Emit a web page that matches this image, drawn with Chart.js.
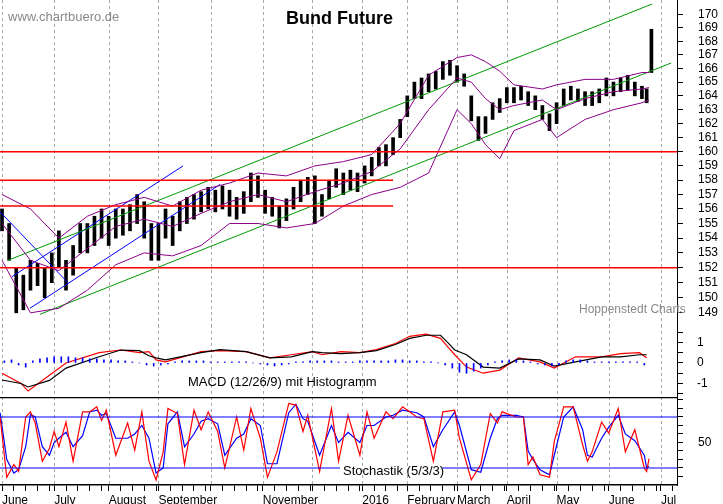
<!DOCTYPE html>
<html><head><meta charset="utf-8">
<script src="https://cdn.jsdelivr.net/npm/chart.js@4.4.1/dist/chart.umd.min.js"></script>
<style>
body{margin:0;background:#fff;width:723px;height:504px;overflow:hidden;position:relative;font-family:"Liberation Sans",Arial,sans-serif}
.c{position:absolute;left:0}
.t{position:absolute;white-space:nowrap}
</style></head><body>
<div class="c" style="top:0;width:723px;height:325px"><canvas id="p" width="723" height="325"></canvas></div>
<div class="c" style="top:325px;width:723px;height:72px"><canvas id="m" width="723" height="72"></canvas></div>
<div class="c" style="top:397px;width:723px;height:107px"><canvas id="s" width="723" height="107"></canvas></div>
<div class="t" style="left:8px;top:9px;font-size:13px;color:#8a8a8a">www.chartbuero.de</div>
<div class="t" style="left:286px;top:8px;font-size:18px;font-weight:bold">Bund Future</div>
<div class="t" style="left:579px;top:302px;font-size:12px;color:#8a8a8a">Hoppenstedt Charts</div>
<div class="t" style="left:188px;top:374px;font-size:13px">MACD (12/26/9) mit Histogramm</div>
<div class="t" style="left:343px;top:463px;font-size:13px">Stochastik (5/3/3)</div>
<script>
// ---- data ----
const monthDays=[0,22,45,66,88,110,131,152,171,192,213,234,256,278];
const monthLabels=['June','July','August','September','','November','','2016','February','March','April','May','June','Jul'];
const priceTicks=[149,150,151,152,153,154,155,156,157,158,159,160,161,162,163,164,165,166,167,168,169,170];
const macdTicks=[-1,0,1];
const stochTicks=[50];
const barDays=[0,3,6,9,12,15,18,21,24,27,30,33,36,39,42,45,48,51,54,57,60,63,66,69,72,75,78,81,84,87,90,93,96,99,102,105,108,111,114,117,120,123,126,129,132,135,138,141,144,147,150,153,156,159,162,165,168,171,174,177,180,183,186,189,192,195,198,201,204,207,210,213,216,219,222,225,228,231,234,237,240,243,246,249,252,255,258,261,264,267,270,272,274];
const barLow=[154.5,152.5,149,149.2,150.5,150.8,150,151,152,150.5,151.5,153,153,153.5,154,153.5,154,154.2,154.5,155,154,152.5,152.5,154,153.5,154.5,155,155.3,155.8,156,155.8,156,155.5,155.3,155.7,156.5,156.8,155.7,155.5,154.7,155.2,156,156.5,157,155,155.5,156.7,157.5,157,157.3,157.2,157.8,158.3,159,159,159.8,161,162.5,163.8,163.8,164.3,164.5,165.2,165.5,165,164.7,162.2,160.8,161.3,162.3,162.8,163.5,163.5,163.7,163.3,163,162.3,161.5,162,163.3,163.7,163.6,163.3,163.3,163.5,164,164,164.3,164.4,164,163.8,163.5,165.7];
const barHigh=[156,155,152,151.5,152.5,152.3,152,153,154.5,152.5,153.5,155,155,155.5,156,155.5,156,156,156.3,157,156.5,155,155,156,155.5,156.5,156.8,157,157.2,157.5,157.3,157.6,157.3,156.8,157.2,158.5,158.3,157.3,156.8,156.2,156.7,157.5,158,158.2,158.3,157,158,158.8,158.5,158.7,158.5,159,159.6,160.3,160.5,161,162.3,164,165,165.3,165.6,165.8,166.5,166.6,166.2,165.6,164,162.5,162.5,163.5,163.8,164.6,164.6,164.7,164.3,164,163.3,162.7,163.5,164.5,164.7,164.5,164.3,164.3,164.5,165.3,165,165.3,165.5,165,164.7,164.5,168.9];
const bbDays=[0,12,24,36,48,60,72,84,96,108,120,132,144,156,168,180,192,198,204,210,216,228,234,246,258,270,273];
const bbUpper=[157,156,154,155.5,156.3,156.8,156.2,157.3,157.8,158.5,158.3,159,159.3,159.8,162,165.5,166.8,167,166.5,165.8,164.8,164.5,164.8,165.2,165.2,165.7,165.7];
const bbMid=[155,152.5,151.8,153.3,154.8,155.3,154.8,155.7,156.5,157,156.5,157.2,157.8,158.6,160.2,163,165.3,165,163.8,163,163.3,163.7,163,163.8,164.3,164.5,164.6];
const bbLower=[152.5,149,149.3,150.5,152.2,153,152.8,153.5,155,155,154.7,155,156.2,157,157.5,158.5,163,162,160.5,159.5,161.5,162.3,161,162.3,163,163.5,163.7];
const greenUpper=[{x:2.5,y:152.5},{x:274.3,y:170.8}];
const greenLower=[{x:16,y:148.9},{x:282.3,y:166.4}];
const blue1=[{x:-0.8,y:155.8},{x:27.8,y:151.0}];
const blue2=[{x:4.2,y:151.4},{x:76.4,y:159.0}];
const blue3=[{x:11.8,y:149.3},{x:92,y:157.7}];
const redFull=[160,152];
const redPart=[158,156.2];
const redPartEnd=165;
const macdDays=[0,8,11,20,27,41,50,58,62,65,69,84,92,103,113,122,131,135,143,151,158,166,172,179,185,188,191,196,203,210,218,227,233,242,253,261,269,272];
const macdBlack=[-0.83,-1.0,-1.17,-0.85,-0.25,0.3,0.63,0.6,0.35,0.25,0.15,0.5,0.65,0.55,0.25,0.3,0.55,0.5,0.45,0.5,0.6,0.9,1.2,1.35,1.35,1.0,0.63,0.4,-0.2,-0.25,0.2,0.15,-0.15,0.05,0.3,0.3,0.4,0.4];
const macdRed=[-0.5,-1.0,-1.37,-0.6,0,0.5,0.63,0.5,0.55,0.15,0.05,0.55,0.6,0.55,0.25,0.4,0.55,0.4,0.55,0.5,0.65,0.95,1.3,1.4,1.2,0.8,0.4,-0.2,-0.5,-0.35,0.25,0.05,-0.25,0.3,0.3,0.45,0.5,0.25];
const histDays=[1,4,7,10,13,16,19,22,25,28,31,34,37,40,43,46,49,52,55,58,61,64,67,70,73,76,79,82,85,88,91,94,97,100,103,106,109,112,115,118,121,124,127,130,133,136,139,142,145,148,151,154,157,160,163,166,169,172,175,178,181,184,187,190,193,196,199,202,205,208,211,214,217,220,223,226,229,232,235,238,241,244,247,250,253,256,259,262,265,268,271];
const histVals=[0.1,0.15,-0.1,-0.2,0.1,0.2,0.25,0.3,0.3,0.3,0.25,0.25,0.2,0.2,0.15,0.15,0.1,0.1,0.05,0.0,-0.1,-0.15,-0.1,-0.05,0.05,0.1,0.1,0.1,0.1,0.05,0.05,0.05,0.05,0.05,0.05,0.0,-0.05,-0.1,-0.15,-0.1,-0.05,0.05,0.05,0.1,0.1,0.1,0.1,0.05,0.05,0.05,0.1,0.1,0.1,0.1,0.1,0.15,0.15,0.1,0.1,0.05,0.05,0.0,-0.1,-0.25,-0.45,-0.5,-0.4,-0.25,-0.1,0.05,0.1,0.15,0.15,0.1,0.05,-0.05,-0.1,-0.15,-0.1,0.1,0.15,0.15,0.1,0.05,0.05,0.05,0.05,0.05,0.05,0.05,-0.1];
const stochDays=[-0.8,2,5,7,10,12,14,17,20,22,24,27,30,34,37,40,42,44,48,53,56,59,62,65,68,70,74,77,81,84,87,91,94,99,102,105,109,112,116,121,124,127,129,134,139,142,146,151,154,157,162,165,169,175,178,182,186,191,193,198,202,206,209,211,217,220,222,224,227,231,233,237,241,245,247,249,253,256,260,263,267,271,272,273];
const stochK=[80,9,24,16,80,86,73,28,43,63,45,74,28,86,86,92,76,88,35,73,41,86,28,6,39,90,84,24,88,65,86,63,20,80,41,90,55,9,39,96,94,63,82,16,90,28,82,35,86,55,86,78,92,80,78,28,86,88,55,6,24,84,73,86,80,80,24,33,12,9,51,92,92,47,28,39,74,61,90,39,65,20,16,31];
const stochD=[85,30,14,18,45,83,80,45,35,50,55,62,45,58,86,88,82,84,55,55,60,70,55,14,20,72,86,45,60,75,78,72,35,55,60,78,70,25,25,85,95,78,75,35,70,50,62,50,70,70,80,82,88,85,80,45,65,86,70,18,15,55,78,82,82,80,40,30,18,12,35,80,92,65,35,33,55,68,82,60,52,35,20,22];
const stochLevels=[80,20];
const stochGap=[142.6,185.7];

// ---- helpers ----
const XMIN=-0.85, XMAX=284.8;
const vgrid={id:'vgrid',beforeDatasetsDraw(c){const g=c.ctx,a=c.chartArea,x=c.scales.x;g.save();g.strokeStyle='#a8a8a8';g.lineWidth=1;g.setLineDash([3,3]);
  monthDays.forEach(d=>{const px=Math.round(x.getPixelForValue(d))+0.5;g.beginPath();g.moveTo(px,a.top);g.lineTo(px,a.bottom);g.stroke();});g.restore();}};
function xHidden(){return {type:'linear',min:XMIN,max:XMAX,offset:false,grid:{display:false},border:{display:false},ticks:{display:false},
  afterFit:s=>{s.height=0;}};}
function yAxis(ticks,min,max,type,extra,pad){return Object.assign({type:type||'linear',position:'right',min:min,max:max,
  grid:{display:true,drawOnChartArea:false,tickLength:6,tickColor:'#000'},border:{color:'#000',width:1},
  ticks:{color:'#000',font:{family:'Liberation Sans',size:12},padding:pad||12,autoSkip:false,callback:v=>ticks.includes(v)?String(v):''},
  afterFit:s=>{s.width=46;s.paddingTop=0;s.paddingBottom=0;}},extra||{});}
const line=(data,color,w)=>({type:'line',data:data,borderColor:color,borderWidth:w||1,pointRadius:0,fill:false,tension:0});
const base={responsive:false,animation:false,events:[],layout:{padding:0,autoPadding:false},plugins:{legend:{display:false},tooltip:{enabled:false}}};

// ---- price ----
const ds=[];
redFull.forEach(v=>ds.push(line([{x:XMIN,y:v},{x:XMAX,y:v}],'#ff0000',1.5)));
redPart.forEach(v=>ds.push(line([{x:XMIN,y:v},{x:redPartEnd,y:v}],'#ff0000',1.5)));
ds.push(line(bbDays.map((d,i)=>({x:d,y:bbUpper[i]})),'#8b008b'));
ds.push(line(bbDays.map((d,i)=>({x:d,y:bbMid[i]})),'#8b008b'));
ds.push(line(bbDays.map((d,i)=>({x:d,y:bbLower[i]})),'#8b008b'));
ds.push(line(greenUpper,'#009900'));ds.push(line(greenLower,'#009900'));
ds.push(line(blue1,'#0000ff'));ds.push(line(blue2,'#0000ff'));ds.push(line(blue3,'#0000ff'));
ds.push({type:'bar',data:barDays.map((d,i)=>({x:d,y:[barLow[i],barHigh[i]]})),backgroundColor:'#000',barThickness:3,borderWidth:0});
new Chart(document.getElementById('p'),{type:'bar',plugins:[vgrid],data:{datasets:ds},options:Object.assign({},base,{scales:{
  x:xHidden(),
  y:yAxis(priceTicks,148.2,171.1,'logarithmic',{afterBuildTicks:s=>{s.ticks=priceTicks.map(v=>({value:v}));}},15)}})});

// ---- MACD ----
new Chart(document.getElementById('m'),{type:'bar',plugins:[vgrid],data:{datasets:[
  {type:'bar',data:histDays.map((d,i)=>({x:d,y:histVals[i]})),backgroundColor:'#0000ff',barThickness:1},
  line(macdDays.map((d,i)=>({x:d,y:macdBlack[i]})),'#000',1.2),
  line(macdDays.map((d,i)=>({x:d,y:macdRed[i]})),'#ff0000',1.2)
]},options:Object.assign({},base,{scales:{x:xHidden(),
  y:yAxis(macdTicks,-1.66,1.85,'linear',{afterBuildTicks:s=>{s.ticks=[-1.5,-1,-0.5,0,0.5,1,1.5].map(v=>({value:v}));}},14)}})});

// ---- Stochastic ----
const sep={id:'sep',afterDraw(c){const g=c.ctx,a=c.chartArea;g.save();g.strokeStyle='#000';g.lineWidth=1.5;g.beginPath();g.moveTo(0,a.top+0.5);g.lineTo(a.right,a.top+0.5);g.stroke();g.restore();}};
const wk=[];for(let i=0;i<monthDays.length-1;i++){const a=monthDays[i],b=monthDays[i+1];for(let d=a;d<b;d+=5)wk.push(d);}wk.push(278,283);
new Chart(document.getElementById('s'),{type:'line',plugins:[vgrid,sep],data:{datasets:[
  line([{x:XMIN,y:stochLevels[0]},{x:XMAX,y:stochLevels[0]}],'#0000ff',1.2),
  line([{x:XMIN,y:stochLevels[1]},{x:stochGap[0],y:stochLevels[1]}],'#0000ff',1.2),
  line([{x:stochGap[1],y:stochLevels[1]},{x:XMAX,y:stochLevels[1]}],'#0000ff',1.2),
  line(stochDays.map((d,i)=>({x:d,y:stochK[i]})),'#ff0000',1.2),
  line(stochDays.map((d,i)=>({x:d,y:stochD[i]})),'#0000ff',1.2)
]},options:Object.assign({},base,{scales:{
  x:{type:'linear',min:XMIN,max:XMAX,offset:false,grid:{drawOnChartArea:false,tickLength:6,tickColor:'#000'},
     border:{color:'#000',width:1.5},
     ticks:{color:'#000',autoSkip:false,maxRotation:0,align:'start',padding:2,font:{family:'Liberation Sans',size:12},
       callback:v=>{const i=monthDays.indexOf(v);return i>=0?monthLabels[i]:'';}},
     afterBuildTicks:s=>{s.ticks=wk.map(v=>({value:v}));},afterFit:s=>{s.height=19;}},
  y:yAxis(stochTicks,0,103.5,'linear',{afterBuildTicks:s=>{s.ticks=[10,20,30,40,50,60,70,80,90,100].map(v=>({value:v}));}},15)}})});
</script></body></html>
